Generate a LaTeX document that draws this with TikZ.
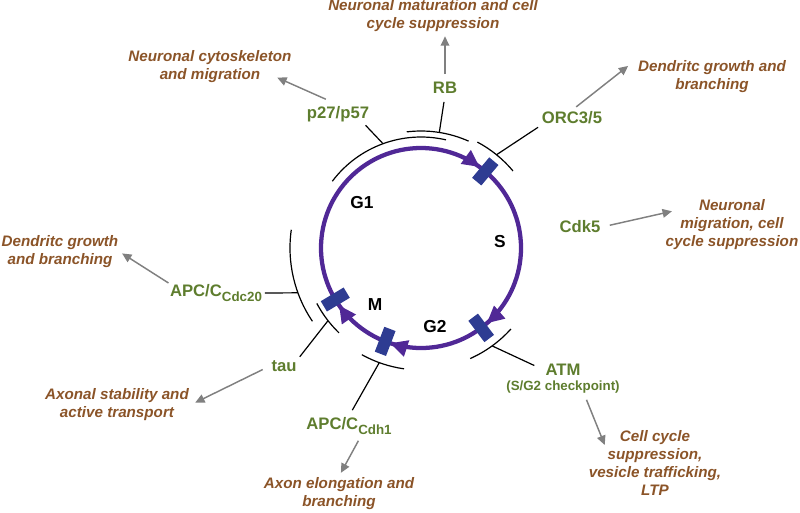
\documentclass[tikz,border=0pt]{standalone}
\usepackage{fontspec}
\setmainfont{Liberation Sans}
\usetikzlibrary{arrows.meta,calc,decorations.markings}

\definecolor{cyclepurple}{RGB}{80,40,150}
\definecolor{checkblue}{RGB}{46,60,146}
\definecolor{factorgreen}{RGB}{94,125,46}
\definecolor{effectbrown}{RGB}{139,84,40}
\definecolor{arrowgray}{RGB}{128,128,128}

\newcommand{\subtext}[1]{\raisebox{-3.5pt}{\fontsize{10}{12}\selectfont #1}}

\begin{document}
\begin{tikzpicture}[x=0.75pt,y=0.75pt,
		phase/.style={font=\bfseries\fontsize{13}{15}\selectfont},
		factor/.style={text=factorgreen,inner sep=1pt,font=\bfseries\fontsize{12.5}{15}\selectfont},
		effect/.style={text=effectbrown,align=center,inner sep=1pt,font=\bfseries\itshape\fontsize{11.4}{13.5}\selectfont},
		chkbar/.style={fill=checkblue,minimum width=20pt,minimum height=9pt,inner sep=0pt},
		inhib/.style={line width=0.9pt},
		effarrow/.style={draw=arrowgray,line width=1.1pt,-{Triangle[length=7pt,width=6.5pt]}}]
	\useasboundingbox (0,0) rectangle (800,-512);
	\coordinate (cc) at (421,-248);
	
	% the cycle
	\draw[cyclepurple,line width=3.2pt,postaction={decorate},decoration={markings,
			mark=at position 0.1 with {\arrow{Triangle[length=13pt,width=12pt]}},
			mark=at position 0.386 with {\arrow{Triangle[length=13pt,width=12pt]}},
			mark=at position 0.55 with {\arrow{Triangle[length=13pt,width=12pt]}},
			mark=at position 0.653 with {\arrow{Triangle[length=13pt,width=12pt]}}}]
		($(cc)+(90:100)$) arc[start angle=90,end angle=-270,radius=100];
	\foreach \a/\n in {50/chkGS,-53/chkSG,-111/chkGM,-149/chkMG}
		\node[chkbar,rotate=\a] (\n) at ($(cc)+(\a:100)$) {};
	
	\node[phase] (G1) at (362,-203) {G1};
	\node[phase] (S) at (500,-242) {S};
	\node[phase] (M) at (375,-305) {M};
	\node[phase] (G2) at (435,-327) {G2};
	
	% factors
	\node[factor] (p27) at (338,-114) {p27/p57};
	\node[factor] (RB) at (445,-88) {RB};
	\node[factor] (ORC) at (572,-118) {ORC3/5};
	\node[factor] (Cdk5) at (580,-227) {Cdk5};
	\node[factor] (Cdc20) at (216,-293) {APC/C\subtext{Cdc20}};
	\node[factor] (tau) at (284,-366) {tau};
	\node[factor] (Cdh1) at (349,-426) {APC/C\subtext{Cdh1}};
	\node[factor] (ATM) at (563,-370) {ATM};
	\node[factor,font=\bfseries\fontsize{10}{12}\selectfont] (ATMchk) at (563,-387) {(S/G2 checkpoint)};
	
	% effects
	\node[effect] (cyto) at (210,-67) {Neuronal cytoskeleton\\and migration};
	\node[effect] (matur) at (433,-16) {Neuronal maturation and cell\\cycle suppression};
	\node[effect] (dendA) at (712,-77) {Dendritc growth and\\branching};
	\node[effect] (migr) at (732,-225) {Neuronal\\migration, cell\\cycle suppression};
	\node[effect] (dendB) at (60,-252) {Dendritc growth\\and branching};
	\node[effect] (axstab) at (117,-405) {Axonal stability and\\active transport};
	\node[effect] (axelong) at (339,-494) {Axon elongation and\\branching};
	\node[effect] (ltp) at (655,-463) {Cell cycle\\suppression,\\vesicle trafficking,\\LTP};
	
	% inhibition arcs
	\draw[inhib] ($(cc)+(77:111)$) arc[start angle=77,end angle=143,radius=111];
	\draw[inhib] ($(cc)+(66:117)$) arc[start angle=66,end angle=97,radius=117];
	\draw[inhib] ($(cc)+(40:120)$) arc[start angle=40,end angle=62,radius=120];
	\draw[inhib] ($(cc)+(172:131)$) arc[start angle=172,end angle=214,radius=131];
	\draw[inhib] ($(cc)+(208:118)$) arc[start angle=208,end angle=226,radius=118];
	\draw[inhib] ($(cc)+(241:122)$) arc[start angle=241,end angle=262,radius=122];
	\draw[inhib] ($(cc)+(-66:121)$) arc[start angle=-66,end angle=-42,radius=121];
	\coordinate (jp27) at ($(cc)+(110:111)$);
	\coordinate (jRB) at ($(cc)+(81:117)$);
	\coordinate (jORC) at ($(cc)+(51:120)$);
	\coordinate (jCdc20) at ($(cc)+(200:131)$);
	\coordinate (jtau) at ($(cc)+(218:118)$);
	\coordinate (jCdh1) at ($(cc)+(250:122)$);
	\coordinate (jATM) at ($(cc)+(-54:121)$);
	\draw[inhib,shorten >=2pt] (jp27) -- (p27.-20);
	\draw[inhib,shorten >=5pt] (jRB) -- (RB.south);
	\draw[inhib,shorten >=2pt] (jORC) -- (ORC.south west);
	\draw[inhib,shorten >=1pt] (jCdc20) -- (Cdc20.east);
	\draw[inhib,shorten >=2pt] (jtau) -- (tau.north east);
	\draw[inhib,shorten >=5pt] (jCdh1) -- (Cdh1.north);
	\draw[inhib,shorten >=8pt] (jATM) -- (ATM.west);
	
	% effect arrows
	\draw[effarrow,shorten <=10pt,shorten >=-13pt] (p27.north) -- (cyto.south east);
	\draw[effarrow,shorten <=5pt,shorten >=2pt] (RB.north) -- (RB.north |- matur.south);
	\draw[effarrow,shorten <=4pt,shorten >=8pt] (ORC.north) -- (dendA.north west);
	\draw[effarrow,shorten <=6pt,shorten >=-6pt] (Cdk5.east) -- (migr.170);
	\draw[effarrow,shorten >=2pt] (Cdc20.north west) -- (dendB.east);
	\draw[effarrow,shorten <=6pt,shorten >=4pt] (tau.west) -- (axstab.east);
	\draw[effarrow,shorten <=4pt,shorten >=3pt] (Cdh1.-40) -- (axelong.north);
	\draw[effarrow,shorten <=4pt,shorten >=-13pt] (ATMchk.-20) -- (ltp.149);
\end{tikzpicture}
\end{document}
